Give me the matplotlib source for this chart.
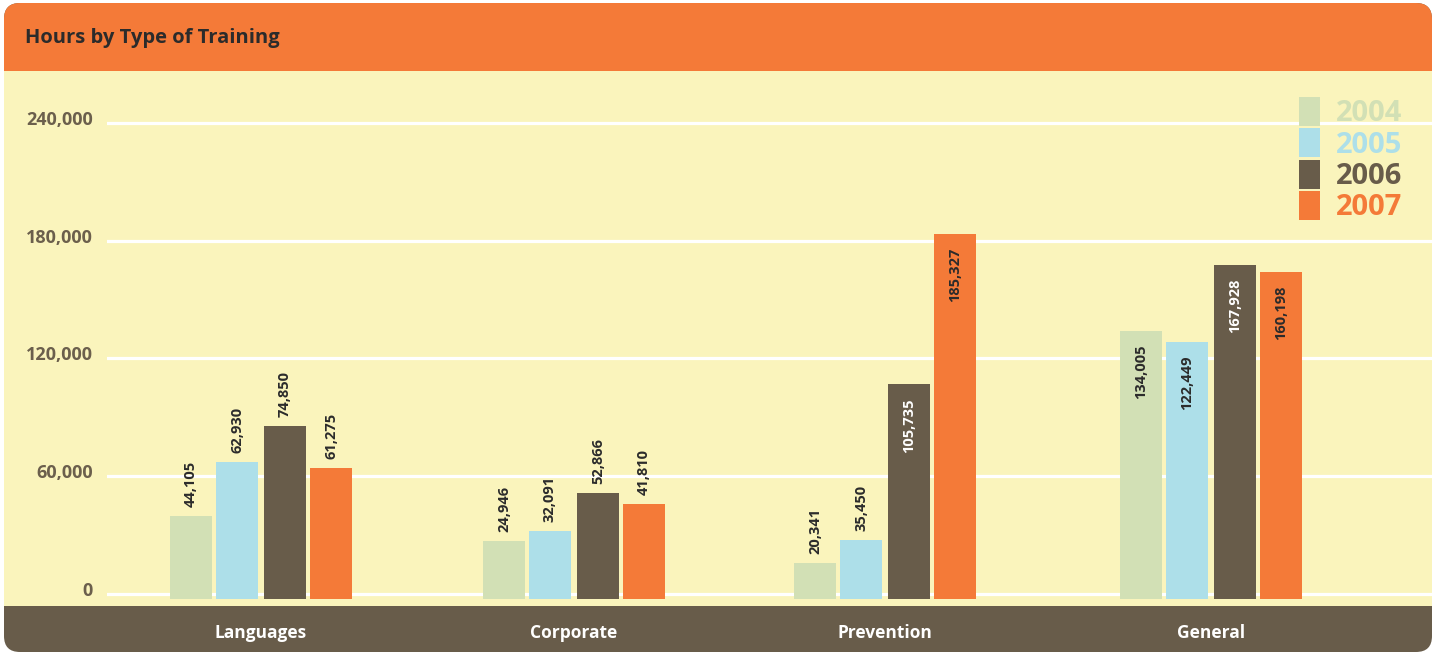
import matplotlib
matplotlib.use("Agg")
import matplotlib.pyplot as plt
from matplotlib.patches import FancyBboxPatch, Rectangle
import numpy as np

# data
categories = ["Languages", "Corporate", "Prevention", "General"]
years = ["2004", "2005", "2006", "2007"]
# printed values
hours = {
    "2004": [44105, 24946, 20341, 134005],
    "2005": [62930, 32091, 35450, 122449],
    "2006": [74850, 52866, 105735, 167928],
    "2007": [61275, 41810, 185327, 160198],
}
# bar heights as actually drawn in the source (they don't follow the labels exactly)
drawn = {
    "2004": [39500, 26800, 15550, 133900],
    "2005": [67100, 31900, 27300, 128300],
    "2006": [85400, 51400, 106800, 167500],
    "2007": [64000, 45600, 183300, 164000],
}
yticks = [0, 60000, 120000, 180000, 240000]
ytick_labels = ["0", "60,000", "120,000", "180,000", "240,000"]

colors = {"2004": "#d2e0b5", "2005": "#addfe9", "2006": "#685c4a", "2007": "#f47a38"}
label_colors = {"2004": "#2b2b2b", "2005": "#2b2b2b", "2006": "#ffffff", "2007": "#2b2b2b"}
YELLOW = "#faf4bc"
ORANGE = "#f47a38"
BROWN = "#685c4a"
TICK = "#6b5f4c"

plt.rcParams["font.family"] = ["Open Sans", "DejaVu Sans"]

W, H = 1437, 654
fig = plt.figure(figsize=(W / 100, H / 100), dpi=100)
fig.patch.set_facecolor("white")

# background panel (pixel coordinates)
bg = fig.add_axes([0, 0, 1, 1])
bg.set_xlim(0, W)
bg.set_ylim(H, 0)
bg.axis("off")
bg.add_patch(FancyBboxPatch((4, 3), 1428, 649, boxstyle="round,pad=0,rounding_size=16",
                            fc=BROWN, ec="none"))
bg.add_patch(FancyBboxPatch((4, 3), 1428, 300, boxstyle="round,pad=0,rounding_size=16",
                            fc=ORANGE, ec="none"))
bg.add_patch(Rectangle((4, 71), 1428, 535, fc=YELLOW, ec="none"))
bg.text(25, 38, "Hours by Type of Training", fontsize=14.5, fontweight="bold",
        color="#2b2b2b", va="center", ha="left")

# main plot, x in pixels, y in hours
px_per_unit = 117.65 / 60000
zero_px = 593.5
left_px, right_px, top_px, bot_px = 107, 1432, 71, 606
ax = fig.add_axes([left_px / W, 1 - bot_px / H, (right_px - left_px) / W, (bot_px - top_px) / H])
ax.set_facecolor("none")
ax.set_xlim(left_px, right_px)
ax.set_ylim(-(bot_px - zero_px) / px_per_unit, (zero_px - top_px) / px_per_unit)
for s in ax.spines.values():
    s.set_visible(False)

for t in yticks:
    ax.axhline(t, color="white", lw=2.3, zorder=1)
ax.set_yticks([])
u = 1 / px_per_unit  # hours per pixel
for t, lab in zip(yticks, ytick_labels):
    ax.text(93, t - 2 * u, lab, ha="right", va="baseline", fontsize=13,
            fontweight="bold", color=TICK, clip_on=False)

group_x = np.array([261, 574, 885, 1211])
offsets = [-70, -24, 24, 70]
bar_w = 42
base = -5 * u

for i, y in enumerate(years):
    xs = group_x + offsets[i]
    heights = np.array(drawn[y]) - base
    ax.bar(xs, heights, width=bar_w, bottom=base, color=colors[y], zorder=2, label=y)
    for x, top, v in zip(xs, drawn[y], hours[y]):
        txt = f"{v:,}"
        if v > 100000:
            ax.text(x, top - 14 * u, txt, rotation=90, ha="center", va="top",
                    fontsize=10.5, fontweight="bold", color=label_colors[y], zorder=3)
        else:
            ax.text(x, top + 9 * u, txt, rotation=90, ha="center", va="bottom",
                    fontsize=10.5, fontweight="bold", color="#2b2b2b", zorder=3)

ax.set_xticks(group_x, categories)
ax.tick_params(axis="x", length=0, pad=13, labelsize=12.5, labelcolor="white")
for lab in ax.get_xticklabels():
    lab.set_fontweight("bold")

leg = ax.legend(loc="upper right", bbox_to_anchor=(1402, (zero_px - 97) / px_per_unit),
                bbox_transform=ax.transData, frameon=False, fontsize=21,
                handlelength=0.72, handleheight=1.15, handletextpad=0.55,
                labelspacing=0.0, borderaxespad=0, borderpad=0,
                labelcolor=[colors[y] for y in years])
for t in leg.get_texts():
    t.set_fontweight("bold")

fig.savefig("out.png", dpi=100)
